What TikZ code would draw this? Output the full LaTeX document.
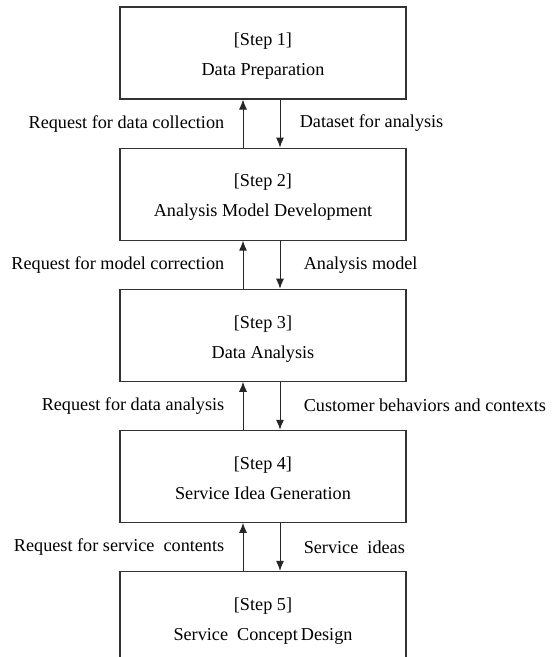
\documentclass[tikz,border=0pt]{standalone}
\usepackage{fontspec}
\setmainfont{Liberation Serif}
\usetikzlibrary{positioning,arrows.meta}

\begin{document}
\begin{tikzpicture}[x=1pt,y=1pt,
    stepbox/.style={draw=black!80, line width=1.1pt, minimum width=286pt,
        minimum height=92pt, align=center, text depth=0pt,
        font=\fontsize{18.2}{30}\selectfont},
    flow/.style={-{Latex[length=10pt,width=8pt]}, line width=0.9pt, black!85},
    lbl/.style={text=black, font=\fontsize{18.2}{20}\selectfont}]

    \useasboundingbox (0,0) rectangle (552,-657);
    \clip (0,0) rectangle (552,-657);

    % --- Steps (top to bottom) ---
    \node[stepbox] (s1) at (263,-53) {\raisebox{-3pt}{[Step 1]}\\\raisebox{-3pt}{Data Preparation}};
    \node[stepbox, below=48pt of s1] (s2) {\raisebox{-3pt}{[Step 2]}\\\raisebox{-3pt}{Analysis Model Development}};
    \node[stepbox, below=48pt of s2] (s3) {\raisebox{-3pt}{[Step 3]}\\\raisebox{-3pt}{Data Analysis}};
    \node[stepbox, below=48pt of s3] (s4) {\raisebox{-3pt}{[Step 4]}\\\raisebox{-3pt}{Service Idea Generation}};
    \node[stepbox, below=48pt of s4] (s5) {\raisebox{-3pt}{[Step 5]}\\\raisebox{-3pt}{Service\ \ Concept\,Design}};

    % --- Requests going up, results going down ---
    \draw[flow] ([xshift=-20pt]s2.north) -- ([xshift=-20pt]s1.south)
        node[midway, left=15pt, lbl] (q1) {Request for data collection};
    \draw[flow] ([xshift=17pt]s1.south) -- ([xshift=17pt]s2.north)
        node[midway, right=16pt, lbl] (a1) {Dataset for analysis};

    \draw[flow] ([xshift=-20pt]s3.north) -- ([xshift=-20pt]s2.south)
        node[midway, left=15pt, lbl] (q2) {Request for model correction};
    \draw[flow] ([xshift=17pt]s2.south) -- ([xshift=17pt]s3.north)
        node[midway, right=20pt, lbl] (a2) {Analysis model};

    \draw[flow] ([xshift=-20pt]s4.north) -- ([xshift=-20pt]s3.south)
        node[midway, left=15pt, lbl] (q3) {Request for data analysis};
    \draw[flow] ([xshift=17pt]s3.south) -- ([xshift=17pt]s4.north)
        node[midway, right=20pt, lbl] (a3) {Customer behaviors and contexts};

    \draw[flow] ([xshift=-20pt]s5.north) -- ([xshift=-20pt]s4.south)
        node[midway, left=15pt, lbl] (q4) {Request for service\ \ contents};
    \draw[flow] ([xshift=17pt]s4.south) -- ([xshift=17pt]s5.north)
        node[midway, right=20pt, lbl] (a4) {Service\ \ ideas};

\end{tikzpicture}
\end{document}
